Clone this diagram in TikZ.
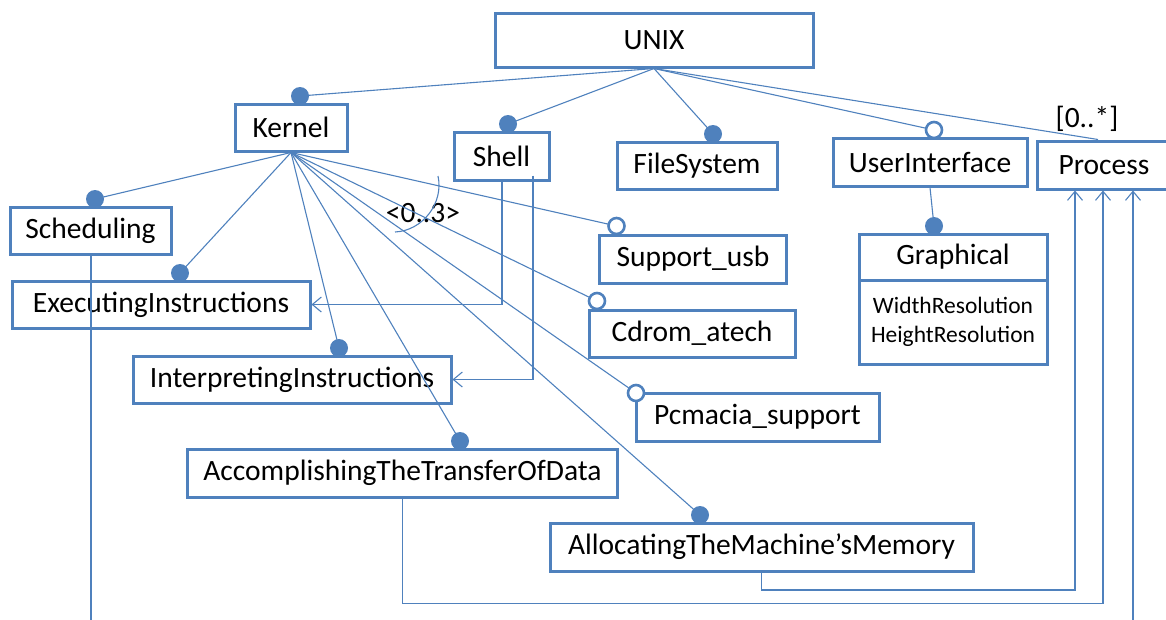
\documentclass[tikz,border=0pt]{standalone}
\usepackage{fontspec}
\setmainfont{Carlito}
\usetikzlibrary{positioning,arrows.meta}
\tikzset{>={Straight Barb[length=9pt,width=15pt]}}
\definecolor{umlblue}{RGB}{79,129,189}

\begin{document}
\begin{tikzpicture}[x=1pt,y=-1pt,
  cls/.style={draw=umlblue,line width=3pt,fill=white,inner sep=0pt,
    font=\fontsize{29.5}{35}\selectfont},
  conn/.style={umlblue,line width=1.1pt},
  dot/.style={fill=umlblue},
  odot/.style={draw=umlblue,fill=white,line width=2.6pt}]
\useasboundingbox (0,0) rectangle (1166,619);

% classes
\node[cls,minimum width=318,minimum height=54] (unix) at (654,40) {UNIX};
\node[cls,minimum width=112,minimum height=47] (kernel) at (291,127.5) {Kernel};
\node[cls,minimum width=95,minimum height=48] (shell) at (501.5,156) {Shell};
\node[cls,minimum width=160,minimum height=47] (fs) at (697,165.5) {FileSystem};
\node[cls,minimum width=194,minimum height=48] (ui) at (930,162) {UserInterface};
\node[cls,minimum width=134,minimum height=48] (proc) at (1104,165) {Process};
\node[cls,minimum width=161,minimum height=47] (sched) at (90.5,230.5) {Scheduling};
\node[cls,minimum width=298,minimum height=47] (exec) at (161,304.5) {ExecutingInstructions};
\node[cls,minimum width=318,minimum height=47] (interp) at (292,379.5) {InterpretingInstructions};
\node[cls,minimum width=430,minimum height=48] (accomp) at (402.5,473) {AccomplishingTheTransferOfData};
\node[cls,minimum width=423,minimum height=48] (alloc) at (761.5,547) {AllocatingTheMachine’sMemory};
\node[cls,minimum width=187,minimum height=48] (usb) at (693,259) {Support\_usb};
\node[cls,minimum width=206,minimum height=47] (cdrom) at (692,333.5) {Cdrom\_atech};
\node[cls,minimum width=243,minimum height=48] (pcm) at (757.5,417) {Pcmacia\_support};
\node[cls,minimum width=188,minimum height=46] (gtitle) at (953,257) {Graphical};
\node[cls,minimum width=188,minimum height=84,align=center,
  font=\fontsize{23.5}{29}\selectfont] (gattr) at (953,322) {WidthResolution\\HeightResolution};

% multiplicities
\node[font=\fontsize{29.5}{35}\selectfont] (pmult) at (1087,119) {[0..*]};
\node[font=\fontsize{29.5}{35}\selectfont] (kmult) at (423,213) {<0..3>};

% ends on the boxes
\coordinate (kdot) at ([xshift=9pt,yshift=6.5pt]kernel.north);
\coordinate (shdot) at ([xshift=6.5pt,yshift=6.5pt]shell.north);
\coordinate (fsdot) at ([xshift=16pt,yshift=6.5pt]fs.north);
\coordinate (uidot) at ([xshift=4pt,yshift=6.5pt]ui.north);
\coordinate (procend) at ([xshift=-6pt]proc.north);
\coordinate (scdot) at ([xshift=4.5pt,yshift=6.5pt]sched.north);
\coordinate (exdot) at ([xshift=19pt,yshift=6.5pt]exec.north);
\coordinate (indot) at ([xshift=47pt,yshift=6.5pt]interp.north);
\coordinate (acdot) at ([xshift=57.5pt,yshift=6.5pt]accomp.north);
\coordinate (aldot) at ([xshift=-61.5pt,yshift=6.5pt]alloc.north);
\coordinate (usbdot) at ([xshift=18.5pt,yshift=7.5pt]usb.north west);
\coordinate (cddot) at ([xshift=9.5pt,yshift=7.5pt]cdrom.north west);
\coordinate (pcdot) at ([xshift=1.5pt,yshift=-1.5pt]pcm.north west);
\coordinate (grdot) at ([xshift=-19pt,yshift=6.5pt]gtitle.north);
\coordinate (schedout) at (91,625);
\coordinate (procin) at (1133,625);

% UNIX parts
\foreach \t in {kdot,shdot,fsdot,uidot,procend}
  \draw[conn] (unix.south) -- (\t);
% Kernel parts
\foreach \t in {scdot,exdot,indot,acdot,aldot,usbdot,cddot,pcdot}
  \draw[conn] (kernel.south) -- (\t);
\draw[conn] (ui.south) -- (grdot);
\draw[conn] (438,176) to[bend left=50] (395,232);

% requires
\draw[conn,->] ([xshift=0.5pt]shell.south) |- (exec.east);
\draw[conn,->] ([xshift=31.5pt,yshift=6pt]shell.south) |- (interp.east);
\draw[conn,->] (alloc.south) -- ++(0,17.5) -| ([xshift=-29pt]proc.south);
\draw[conn,->] (accomp.south) -- ++(0,105) -| ([xshift=-1pt]proc.south);
\draw[conn,->] (procin) -- ([xshift=29pt]proc.south);
\draw[conn] ([xshift=0.5pt]sched.south) -- (schedout);

\foreach \t in {kdot,shdot,fsdot,scdot,exdot,indot,acdot,aldot,grdot}
  \fill[dot] (\t) circle (9pt);
\foreach \t in {uidot,usbdot,cddot,pcdot}
  \filldraw[odot] (\t) circle (8pt);
\end{tikzpicture}
\end{document}
